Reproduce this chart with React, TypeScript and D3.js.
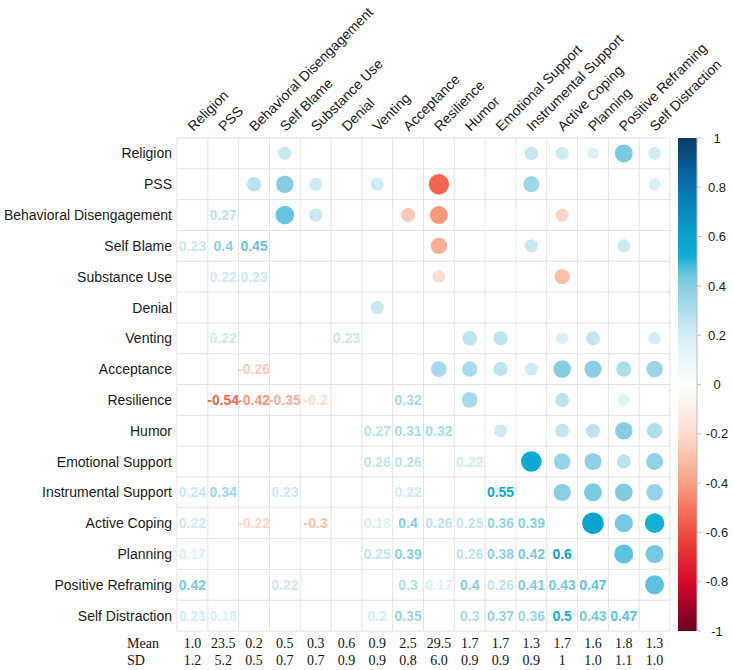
import React from 'react';
import * as d3 from 'd3';

// variable names, same order for rows and columns
const variables = [
  'Religion', 'PSS', 'Behavioral Disengagement', 'Self Blame', 'Substance Use',
  'Denial', 'Venting', 'Acceptance', 'Resilience', 'Humor', 'Emotional Support',
  'Instrumental Support', 'Active Coping', 'Planning', 'Positive Reframing', 'Self Distraction'
];

// significant correlations only: [row, col, r] with col < row (matrix is symmetric)
const correlations: [number, number, number][] = [
  [2, 1, 0.27],
  [3, 0, 0.23], [3, 1, 0.4], [3, 2, 0.45],
  [4, 1, 0.22], [4, 2, 0.23],
  [6, 1, 0.22], [6, 5, 0.23],
  [7, 2, -0.26],
  [8, 1, -0.54], [8, 2, -0.42], [8, 3, -0.35], [8, 4, -0.2], [8, 7, 0.32],
  [9, 6, 0.27], [9, 7, 0.31], [9, 8, 0.32],
  [10, 6, 0.26], [10, 7, 0.26], [10, 9, 0.22],
  [11, 0, 0.24], [11, 1, 0.34], [11, 3, 0.23], [11, 7, 0.22], [11, 10, 0.55],
  [12, 0, 0.22], [12, 2, -0.22], [12, 4, -0.3], [12, 6, 0.18], [12, 7, 0.4],
  [12, 8, 0.26], [12, 9, 0.25], [12, 10, 0.36], [12, 11, 0.39],
  [13, 0, 0.17], [13, 6, 0.25], [13, 7, 0.39], [13, 9, 0.26], [13, 10, 0.38],
  [13, 11, 0.42], [13, 12, 0.6],
  [14, 0, 0.42], [14, 3, 0.22], [14, 7, 0.3], [14, 8, 0.17], [14, 9, 0.4],
  [14, 10, 0.26], [14, 11, 0.41], [14, 12, 0.43], [14, 13, 0.47],
  [15, 0, 0.21], [15, 1, 0.18], [15, 6, 0.2], [15, 7, 0.35], [15, 9, 0.3],
  [15, 10, 0.37], [15, 11, 0.36], [15, 12, 0.5], [15, 13, 0.43], [15, 14, 0.47]
];

const means = ['1.0', '23.5', '0.2', '0.5', '0.3', '0.6', '0.9', '2.5', '29.5', '1.7', '1.7', '1.3', '1.7', '1.6', '1.8', '1.3'];
const sds = ['1.2', '5.2', '0.5', '0.7', '0.7', '0.9', '0.9', '0.8', '6.0', '0.9', '0.9', '0.9', '1', '1.0', '1.1', '1.0'];

const legendTicks = [1, 0.8, 0.6, 0.4, 0.2, 0, -0.2, -0.4, -0.6, -0.8, -1];

const W = 733;
const H = 670;
const gridLeft = 177;
const gridTop = 138;
const gridSize = 493;

const SANS = '"Liberation Sans", Arial, Helvetica, sans-serif';
const SERIF = '"Liberation Serif", "Times New Roman", serif';

const color = d3.scaleLinear<string>()
  .domain([-1, -0.8, -0.6, -0.4, -0.2, 0, 0.2, 0.4, 0.47, 0.5, 0.6, 0.8, 1])
  .range(['#6a0020', '#d9082b', '#ef4c3c', '#f8a083', '#fcdccf', '#ffffff',
    '#d6edf5', '#86cde3', '#5cc2df', '#12b0d4', '#0aa2cf', '#0674b1', '#0a3a69'])
  .interpolate(d3.interpolateRgb);

export default function App() {
  const x = d3.scaleBand<number>()
    .domain(d3.range(variables.length))
    .range([gridLeft, gridLeft + gridSize]);
  const y = d3.scaleBand<number>()
    .domain(d3.range(variables.length))
    .range([gridTop, gridTop + gridSize]);
  const bw = x.bandwidth();
  const cx = (i: number) => (x(i) as number) + bw / 2;
  const cy = (i: number) => (y(i) as number) + bw / 2;

  const radius = d3.scaleSqrt().domain([0, 1]).range([0, bw / 2 * 0.9]);

  const legendY = d3.scaleLinear().domain([-1, 1]).range([gridTop + gridSize, gridTop]);
  const gradStops = d3.range(0, 1.0001, 0.02);

  const lines = d3.range(variables.length + 1);

  return (
    <div style={{ position: 'absolute', left: 0, top: 0 }}>
      <svg width={W} height={H} style={{ display: 'block', background: '#fff' }}>
        <defs>
          <linearGradient id="cbar" x1="0" y1="1" x2="0" y2="0">
            {gradStops.map(t => (
              <stop key={t} offset={`${t * 100}%`} stopColor={color(-1 + 2 * t)} />
            ))}
          </linearGradient>
        </defs>

        {/* grid */}
        <g stroke="#e3e3e3" strokeWidth={1}>
          {lines.map(i => {
            const p = gridLeft + i * bw;
            return <line key={'v' + i} x1={p} x2={p} y1={gridTop} y2={gridTop + gridSize} />;
          })}
          {lines.map(i => {
            const p = gridTop + i * bw;
            return <line key={'h' + i} x1={gridLeft} x2={gridLeft + gridSize} y1={p} y2={p} />;
          })}
        </g>

        {/* upper triangle: circles */}
        {correlations.map(([r, c, v]) => (
          <circle key={`c${r}-${c}`} cx={cx(r)} cy={cy(c)} r={radius(Math.abs(v))} fill={color(v)} />
        ))}

        {/* lower triangle: numbers */}
        {correlations.map(([r, c, v]) => (
          <text key={`t${r}-${c}`} x={cx(c)} y={cy(r)} dy="0.36em" textAnchor="middle"
            fontFamily={SANS} fontSize={14} fontWeight="bold" fill={color(v)}>
            {String(v)}
          </text>
        ))}

        {/* row labels */}
        {variables.map((v, i) => (
          <text key={'r' + v} x={gridLeft - 5} y={cy(i)} dy="0.36em" textAnchor="end"
            fontFamily={SANS} fontSize={14} fill="#1a1a1a">{v}</text>
        ))}

        {/* column labels */}
        {variables.map((v, i) => (
          <text key={'col' + v} transform={`translate(${cx(i) + 1},${gridTop - 6}) rotate(-45)`}
            fontFamily={SANS} fontSize={14} fill="#1a1a1a">{v}</text>
        ))}

        {/* mean / sd rows */}
        <text x={127} y={648} fontFamily={SERIF} fontSize={14} fill="#111">Mean</text>
        <text x={127} y={665} fontFamily={SERIF} fontSize={14} fill="#111">SD</text>
        {means.map((m, i) => (
          <text key={'m' + i} x={cx(i)} y={648} textAnchor="middle" fontFamily={SERIF} fontSize={14} fill="#111">{m}</text>
        ))}
        {sds.map((s, i) => (
          <text key={'s' + i} x={cx(i)} y={665} textAnchor="middle" fontFamily={SERIF} fontSize={14} fill="#111">{s}</text>
        ))}

        {/* colour legend */}
        <rect x={678} y={gridTop} width={19} height={gridSize} fill="url(#cbar)" />
        <line x1={697} x2={697} y1={gridTop} y2={gridTop + gridSize} stroke="#bbb" />
        {legendTicks.map(t => (
          <g key={'lt' + t}>
            <line x1={697} x2={701} y1={legendY(t)} y2={legendY(t)} stroke="#bbb" />
            <text x={717} y={legendY(t)} dy="0.36em" textAnchor="middle"
              fontFamily={SANS} fontSize={13} fill="#1a1a1a">{String(t)}</text>
          </g>
        ))}
      </svg>
    </div>
  );
}
